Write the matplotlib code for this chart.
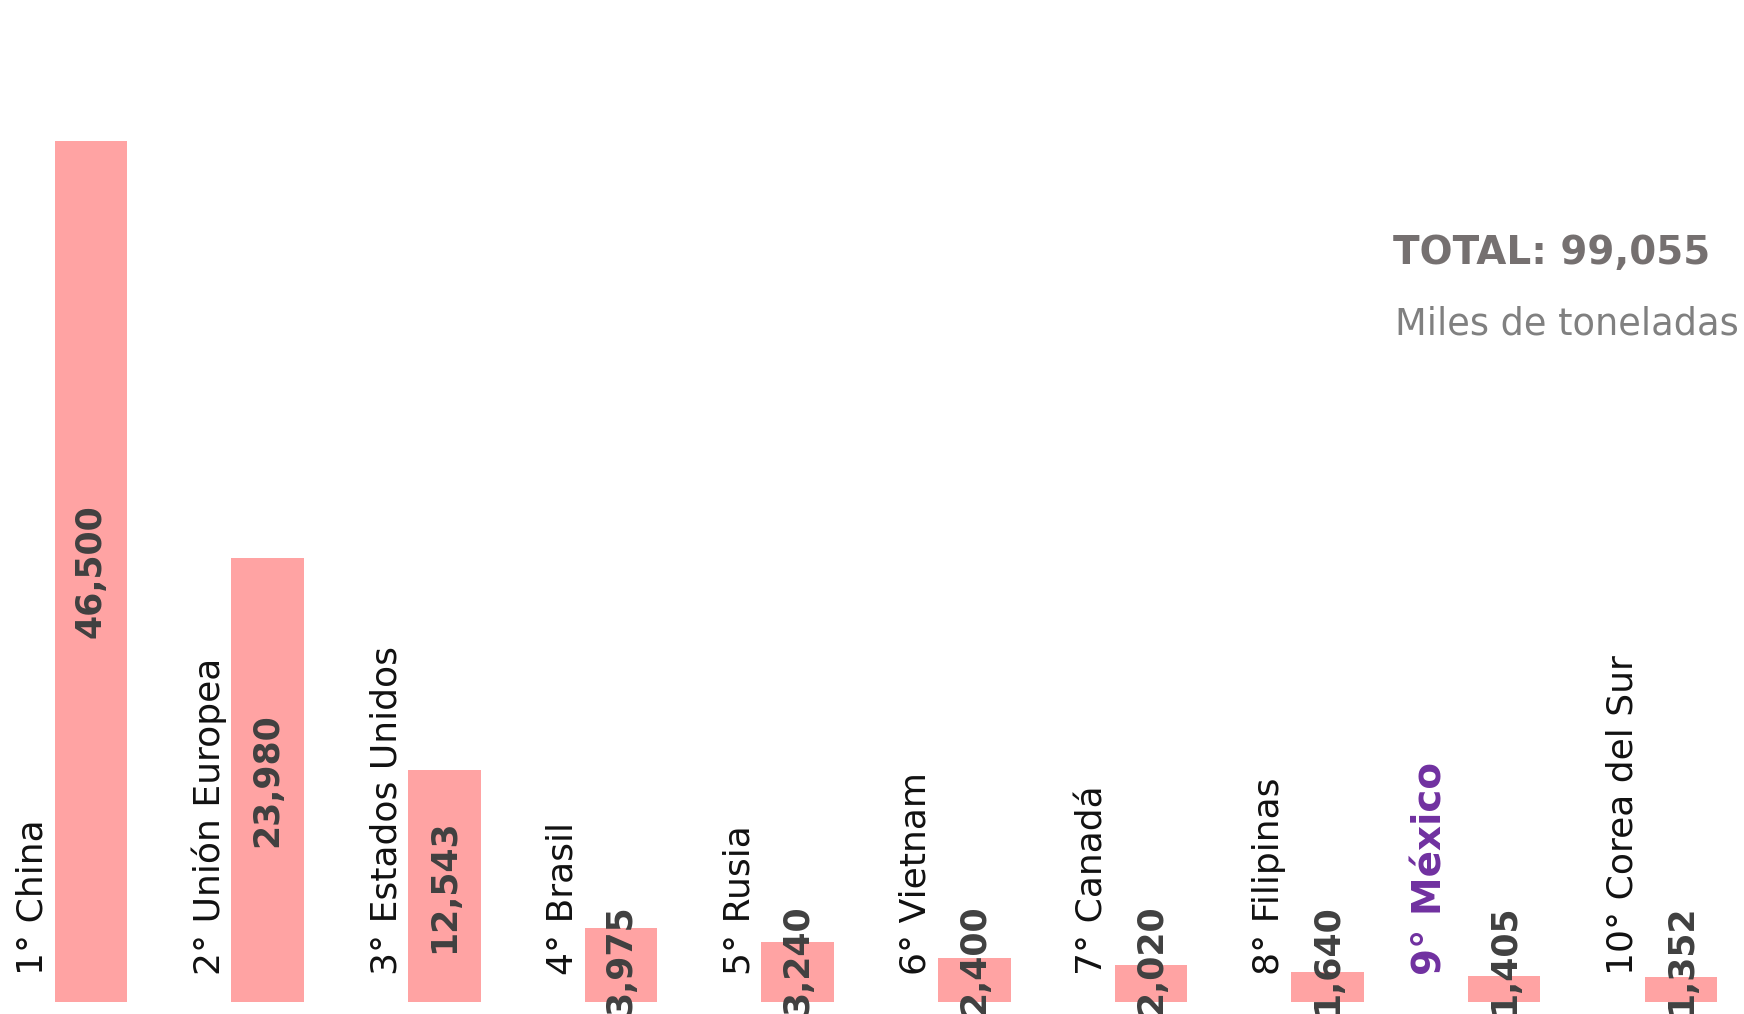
import matplotlib.pyplot as plt

# Production ranking (thousand tonnes)
countries = ["China", "Unión Europea", "Estados Unidos", "Brasil", "Rusia",
             "Vietnam", "Canadá", "Filipinas", "México", "Corea del Sur"]
values = [46500, 23980, 12543, 3975, 3240, 2400, 2020, 1640, 1405, 1352]
total_label = "TOTAL: 99,055"
unit_label = "Miles de toneladas"
highlight = "México"

BAR_COLOR = "#ffa3a3"
VALUE_COLOR = "#404040"
HIGHLIGHT_COLOR = "#7030a0"
FONT = "DejaVu Sans"

fig = plt.figure(figsize=(17.44, 10.14), dpi=100)
ax = fig.add_axes([0, 0, 1, 1])
ax.set_xlim(-0.515, 9.357)
ax.set_ylim(-648, 54115)
ax.axis("off")

xs = list(range(len(values)))
ax.bar(xs, values, width=0.41, color=BAR_COLOR, zorder=1)

for i, (name, v) in enumerate(zip(countries, values)):
    label = f"{i + 1}° {name}"
    if name == highlight:
        ax.text(i - 0.42, 1458, label, rotation=90, rotation_mode="anchor",
                ha="left", va="center", fontsize=28, fontweight="bold",
                color=HIGHLIGHT_COLOR, family=FONT)
    else:
        ax.text(i - 0.33, 1458, label, rotation=90, rotation_mode="anchor",
                ha="left", va="center", fontsize=26, color="#111111",
                family=FONT)
    # value label: centred on the bar, kept above a minimum height
    ax.text(i, max(v / 2, 2300), f"{v:,}", rotation=90, rotation_mode="anchor",
            ha="center", va="center", fontsize=25, fontweight="bold",
            color=VALUE_COLOR, family=FONT, zorder=2)

fig.text(0.799, 0.75, total_label, ha="left", va="center", fontsize=28,
         fontweight="bold", color="#757070", family=FONT)
fig.text(0.800, 0.68, unit_label, ha="left", va="center", fontsize=26.5,
         color="#808080", family=FONT)

fig.savefig("out.png", dpi=100, facecolor="white")
